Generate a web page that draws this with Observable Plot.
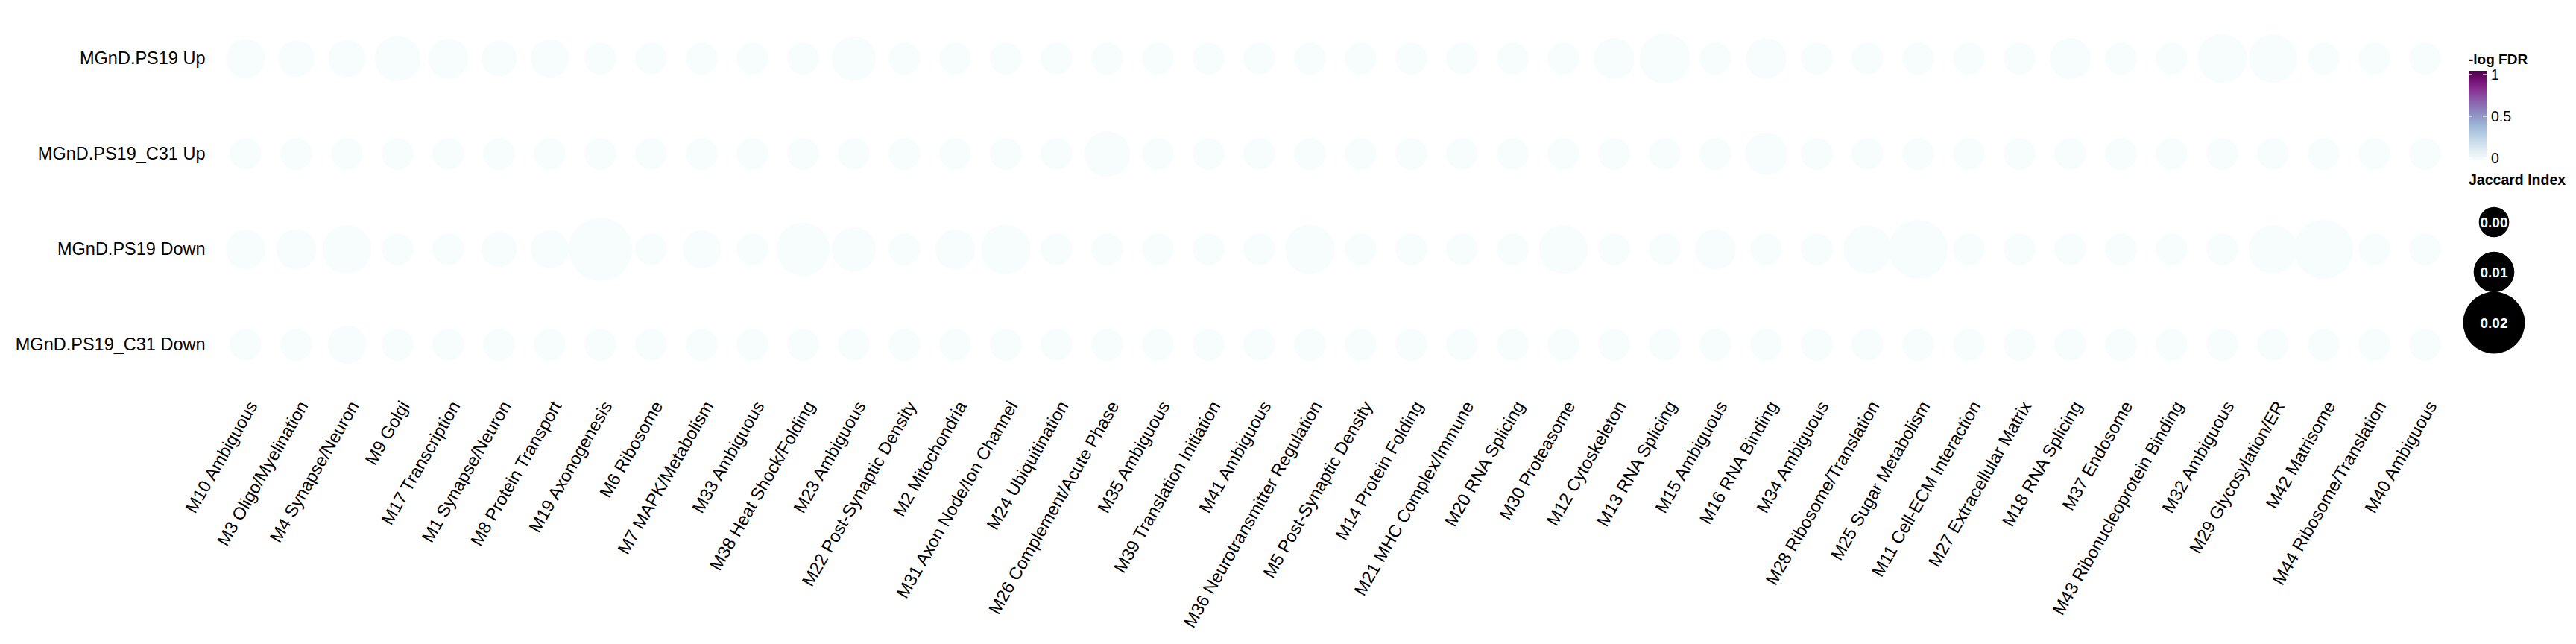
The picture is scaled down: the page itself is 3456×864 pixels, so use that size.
<!DOCTYPE html>
<html>
<head>
<meta charset="utf-8">
<script src="https://cdn.jsdelivr.net/npm/d3@7"></script>
<script src="https://cdn.jsdelivr.net/npm/@observablehq/plot@0.6"></script>
<style>
  body { margin: 0; background: #fff; }
  #chart { position: relative; width: 3456px; height: 864px; font-family: "Liberation Sans", Arial, sans-serif; }
  #legend { position: absolute; left: 0; top: 0; pointer-events: none; }
</style>
</head>
<body>
<div id="chart"></div>
<script>
const rows = ["MGnD.PS19 Up", "MGnD.PS19_C31 Up", "MGnD.PS19 Down", "MGnD.PS19_C31 Down"];

const modules = [
  "M10 Ambiguous", "M3 Oligo/Myelination", "M4 Synapse/Neuron", "M9 Golgi", "M17 Transcription",
  "M1 Synapse/Neuron", "M8 Protein Transport", "M19 Axonogenesis", "M6 Ribosome", "M7 MAPK/Metabolism",
  "M33 Ambiguous", "M38 Heat Shock/Folding", "M23 Ambiguous", "M22 Post-Synaptic Density", "M2 Mitochondria",
  "M31 Axon Node/Ion Channel", "M24 Ubiquitination", "M26 Complement/Acute Phase", "M35 Ambiguous",
  "M39 Translation Initiation", "M41 Ambiguous", "M36 Neurotransmitter Regulation", "M5 Post-Synaptic Density",
  "M14 Protein Folding", "M21 MHC Complex/Immune", "M20 RNA Splicing", "M30 Proteasome", "M12 Cytoskeleton",
  "M13 RNA Splicing", "M15 Ambiguous", "M16 RNA Binding", "M34 Ambiguous", "M28 Ribosome/Translation",
  "M25 Sugar Metabolism", "M11 Cell-ECM Interaction", "M27 Extracellular Matrix", "M18 RNA Splicing",
  "M37 Endosome", "M43 Ribonucleoprotein Binding", "M32 Ambiguous", "M29 Glycosylation/ER", "M42 Matrisome",
  "M44 Ribosome/Translation", "M40 Ambiguous"
];

// Jaccard index, one array per row (same order as modules)
const jaccardUp = [
  0.0091, 0.0071, 0.0078, 0.0128, 0.0095, 0.0064, 0.0085, 0.003, 0.003, 0.003, 0.003,
  0.003, 0.0119, 0.003, 0.003, 0.003, 0.003, 0.003, 0.003, 0.003, 0.003, 0.003,
  0.003, 0.003, 0.003, 0.003, 0.003, 0.0100, 0.0151, 0.003, 0.0099, 0.003, 0.003,
  0.003, 0.003, 0.003, 0.0102, 0.003, 0.003, 0.0145, 0.0142, 0.003, 0.003, 0.003
];
const jaccardC31Up = [
  0.003, 0.003, 0.003, 0.003, 0.003, 0.003, 0.003, 0.003, 0.003, 0.003, 0.003,
  0.003, 0.003, 0.003, 0.003, 0.003, 0.003, 0.0128, 0.003, 0.003, 0.003, 0.003,
  0.003, 0.003, 0.003, 0.003, 0.003, 0.003, 0.003, 0.003, 0.0109, 0.003, 0.003,
  0.003, 0.003, 0.003, 0.003, 0.003, 0.003, 0.003, 0.003, 0.003, 0.003, 0.003
];
const jaccardDown = [
  0.0093, 0.0096, 0.0143, 0.003, 0.003, 0.0064, 0.0086, 0.0206, 0.003, 0.0086, 0.003,
  0.0164, 0.0119, 0.003, 0.0096, 0.0147, 0.003, 0.003, 0.003, 0.003, 0.003, 0.0147,
  0.003, 0.003, 0.003, 0.003, 0.0142, 0.003, 0.003, 0.0100, 0.003, 0.003, 0.0139,
  0.0188, 0.003, 0.003, 0.003, 0.003, 0.003, 0.003, 0.0143, 0.0189, 0.003, 0.003
];
const jaccardC31Down = [
  0.003, 0.003, 0.0085, 0.003, 0.003, 0.003, 0.003, 0.003, 0.003, 0.003, 0.003,
  0.003, 0.003, 0.003, 0.003, 0.003, 0.003, 0.003, 0.003, 0.003, 0.003, 0.003,
  0.003, 0.003, 0.003, 0.003, 0.003, 0.003, 0.003, 0.003, 0.003, 0.003, 0.003,
  0.003, 0.003, 0.003, 0.003, 0.003, 0.003, 0.003, 0.003, 0.003, 0.003, 0.003
];

// -log FDR, all at the bottom of the scale
const fdrUp = [
  0, 0, 0, 0, 0, 0, 0, 0, 0, 0, 0, 0, 0, 0, 0, 0, 0, 0, 0, 0, 0, 0,
  0, 0, 0, 0, 0, 0, 0, 0, 0, 0, 0, 0, 0, 0, 0, 0, 0, 0, 0, 0, 0, 0
];
const fdrC31Up = [
  0, 0, 0, 0, 0, 0, 0, 0, 0, 0, 0, 0, 0, 0, 0, 0, 0, 0, 0, 0, 0, 0,
  0, 0, 0, 0, 0, 0, 0, 0, 0, 0, 0, 0, 0, 0, 0, 0, 0, 0, 0, 0, 0, 0
];
const fdrDown = [
  0, 0, 0, 0, 0, 0, 0, 0, 0, 0, 0, 0, 0, 0, 0, 0, 0, 0, 0, 0, 0, 0,
  0, 0, 0, 0, 0, 0, 0, 0, 0, 0, 0, 0, 0, 0, 0, 0, 0, 0, 0, 0, 0, 0
];
const fdrC31Down = [
  0, 0, 0, 0, 0, 0, 0, 0, 0, 0, 0, 0, 0, 0, 0, 0, 0, 0, 0, 0, 0, 0,
  0, 0, 0, 0, 0, 0, 0, 0, 0, 0, 0, 0, 0, 0, 0, 0, 0, 0, 0, 0, 0, 0
];

const fdrBreaks = [0, 0.5, 1];
const jaccardBreaks = [0, 0.01, 0.02];

const jaccard = [jaccardUp, jaccardC31Up, jaccardDown, jaccardC31Down];
const fdr = [fdrUp, fdrC31Up, fdrDown, fdrC31Down];

const data = rows.flatMap((row, i) =>
  modules.map((m, j) => ({row, module: m, jaccard: jaccard[i][j], fdr: fdr[i][j]}))
);

const font = "Liberation Sans, Arial, sans-serif";

const chart = Plot.plot({
  width: 3456,
  height: 864,
  marginLeft: 281,
  marginRight: 155,
  marginTop: 13,
  marginBottom: 337,
  style: {fontFamily: font, fontSize: "23.5px", color: "black", background: "white"},
  x: {type: "point", domain: modules, padding: 0.5, axis: null},
  y: {type: "point", domain: rows, padding: 0.5, axis: null},
  r: {type: "pow", exponent: 1.6, domain: [0, 0.02], range: [20.3, 41.5]},
  color: {type: "linear", scheme: "BuPu", domain: [0, 1]},
  marks: [
    Plot.dot(data, {x: "module", y: "row", r: "jaccard", fill: "fdr"}),
    Plot.axisY({tickSize: 0, tickPadding: 6, fontSize: 23.5, label: null}),
    Plot.text(modules, {
      x: d => d, frameAnchor: "bottom", rotate: -60,
      textAnchor: "end", lineAnchor: "middle", dx: 10, dy: 13, fontSize: 23.5
    })
  ]
});

d3.select("#chart").append(() => chart);

// legends (drawn to the right of the panel, using the plot's own scales)
const rScale = chart.scale("r");
const cScale = chart.scale("color");
const svg = d3.select("#chart").append("svg")
  .attr("id", "legend")
  .attr("width", 3456)
  .attr("height", 864)
  .style("font-family", font);

const lx = 3312;

svg.append("text").attr("x", lx).attr("y", 86)
  .attr("font-size", 19).attr("font-weight", "bold").text("-log FDR");

const grad = svg.append("defs").append("linearGradient")
  .attr("id", "fdrgrad").attr("x1", 0).attr("x2", 0).attr("y1", 1).attr("y2", 0);
d3.range(0, 1.0001, 0.1).forEach(t => {
  grad.append("stop").attr("offset", t).attr("stop-color", cScale.apply(t));
});

const barTop = 95, barBottom = 215, barW = 24;
const fy = d3.scaleLinear().domain([0, 1]).range([212, 100]);
svg.append("rect").attr("x", lx).attr("y", barTop).attr("width", barW)
  .attr("height", barBottom - barTop).attr("fill", "url(#fdrgrad)");
fdrBreaks.forEach(b => {
  const y = fy(b);
  svg.append("line").attr("x1", lx).attr("x2", lx + 5).attr("y1", y).attr("y2", y)
    .attr("stroke", "white").attr("stroke-width", 1.2);
  svg.append("line").attr("x1", lx + barW - 5).attr("x2", lx + barW).attr("y1", y).attr("y2", y)
    .attr("stroke", "white").attr("stroke-width", 1.2);
  svg.append("text").attr("x", lx + 30).attr("y", y).attr("dy", "0.35em")
    .attr("font-size", 19.5).text(String(b));
});

svg.append("text").attr("x", lx).attr("y", 248)
  .attr("font-size", 19.5).attr("font-weight", "bold").text("Jaccard Index");

const keyY = [298, 365, 433];
jaccardBreaks.forEach((b, i) => {
  svg.append("circle").attr("cx", 3346).attr("cy", keyY[i]).attr("r", rScale.apply(b)).attr("fill", "black");
  svg.append("text").attr("x", 3346).attr("y", keyY[i]).attr("dy", "0.35em")
    .attr("text-anchor", "middle").attr("fill", "white").attr("font-weight", "bold")
    .attr("font-size", 19).text(d3.format(".2f")(b));
});
</script>
</body>
</html>
